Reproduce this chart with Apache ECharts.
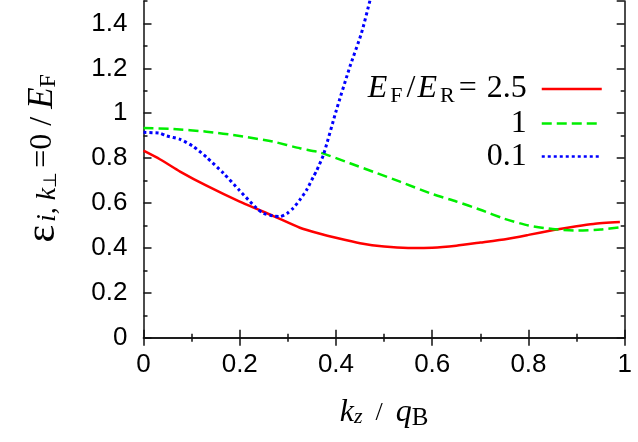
<!DOCTYPE html>
<html>
<head>
<meta charset="utf-8">
<script src="https://cdn.jsdelivr.net/npm/echarts@6/dist/echarts.min.js"></script>
<style>
  html, body { margin: 0; padding: 0; background: #fff; }
  #chart { width: 638px; height: 442px; }
</style>
</head>
<body>
<div id="chart"></div>
<script>
// E_F/E_R = 2.5
const redK = [0, 0.034, 0.076, 0.131, 0.20, 0.27, 0.325, 0.367, 0.40, 0.45, 0.50, 0.55, 0.60, 0.65, 0.70, 0.755, 0.80, 0.852, 0.90, 0.935, 0.99];
const redE = [0.833, 0.795, 0.740, 0.677, 0.606, 0.542, 0.490, 0.463, 0.445, 0.421, 0.406, 0.400, 0.401, 0.410, 0.424, 0.440, 0.458, 0.480, 0.497, 0.507, 0.515];
// E_F/E_R = 1
const greenK = [0, 0.062, 0.131, 0.20, 0.27, 0.325, 0.367, 0.429, 0.48, 0.533, 0.60, 0.65, 0.70, 0.75, 0.80, 0.85, 0.90, 0.95, 0.99];
const greenE = [0.934, 0.930, 0.918, 0.899, 0.873, 0.844, 0.825, 0.777, 0.737, 0.695, 0.640, 0.607, 0.570, 0.530, 0.500, 0.484, 0.477, 0.482, 0.492];
// E_F/E_R = 0.1
const blueK = [0, 0.034, 0.048, 0.076, 0.104, 0.131, 0.166, 0.20, 0.218, 0.235, 0.249, 0.27, 0.284, 0.298, 0.311, 0.325, 0.339, 0.353, 0.36, 0.374, 0.401, 0.429, 0.453, 0.471, 0.49];
const blueE = [0.915, 0.911, 0.899, 0.884, 0.851, 0.804, 0.733, 0.655, 0.614, 0.577, 0.554, 0.542, 0.540, 0.553, 0.577, 0.614, 0.658, 0.717, 0.745, 0.815, 1.015, 1.208, 1.357, 1.505, 1.66];

const seriesNames = ['2.5', '1', '0.1'];

const pairs = (xs, ys) => xs.map((x, i) => [x, ys[i]]);

const chart = echarts.init(document.getElementById('chart'));

const axisLine = { show: true, lineStyle: { color: '#111', width: 1.5 } };
const tickStyle = { color: '#111', width: 1.5 };
const labelFont = { fontFamily: 'Liberation Sans', fontSize: 26, color: '#000' };
const serif = 'Liberation Serif';

// y axes: major (0.2) + minor (0.1) on both sides
const yMajor = (pos, withLabel) => ({
  type: 'value', position: pos, min: 0, max: 1.5, interval: 0.2,
  axisLine: axisLine,
  axisTick: { inside: true, length: 8, lineStyle: tickStyle },
  axisLabel: withLabel ? { ...labelFont, margin: 16, showMaxLabel: false } : { show: false },
  splitLine: { show: false }
});
const yMinor = (pos) => ({
  type: 'value', position: pos, min: 0, max: 1.5, interval: 0.1,
  axisLine: { show: false },
  axisTick: { inside: true, length: 4, lineStyle: tickStyle },
  axisLabel: { show: false },
  splitLine: { show: false }
});

const xAxisBase = (pos, withLabel) => ({
  type: 'value', position: pos, min: 0, max: 1, interval: 0.2,
  axisLine: axisLine,
  axisTick: { inside: true, length: 8, lineStyle: tickStyle },
  minorTick: { show: true, splitNumber: 2, length: 4, lineStyle: tickStyle },
  axisLabel: withLabel ? { ...labelFont, margin: 14 } : { show: false },
  splitLine: { show: false },
  minorSplitLine: { show: false }
});

const yName = {
  ...yMajor('left', true),
  name: '{e|ε}{s|i, }{s|k}{ss|⊥}{m|=0}{m| / }{it|E}{s2|F}',
  nameLocation: 'middle',
  nameGap: 80,
  nameTextStyle: {
    fontFamily: serif, color: '#000', fontSize: 32, padding: [0, 0, 0, 22],
    rich: {
      e: { fontSize: 42, lineHeight: 42, padding: [0, 3, 0, 0] },
      s: { fontSize: 28, fontStyle: 'italic', lineHeight: 26, padding: [10, 0, 0, 0] },
      ss: { fontSize: 18, lineHeight: 16, padding: [18, 4, 0, 0] },
      m: { fontSize: 32, lineHeight: 42 },
      it: { fontSize: 35, fontStyle: 'italic', lineHeight: 42 },
      s2: { fontSize: 24, lineHeight: 22, padding: [12, 0, 0, 0] }
    }
  }
};

const xName = {
  ...xAxisBase('bottom', true),
  name: '{it|k}{s|z}{m|  /  }{it|q}{s2|B}',
  nameLocation: 'middle',
  nameGap: 58,
  nameTextStyle: {
    fontFamily: serif, color: '#000', fontSize: 32,
    rich: {
      it: { fontSize: 32, fontStyle: 'italic', lineHeight: 34 },
      s: { fontSize: 22, fontStyle: 'italic', lineHeight: 20, padding: [10, 0, 0, 0] },
      m: { fontSize: 26, lineHeight: 34 },
      s2: { fontSize: 25, lineHeight: 22, padding: [12, 0, 0, 0] }
    }
  }
};

chart.setOption({
  animation: false,
  backgroundColor: '#fff',
  grid: { left: 143.5, right: 13.3, top: 1, bottom: 104.3, containLabel: false },
  legend: {
    orient: 'vertical',
    right: 35,
    top: 71,
    padding: 0,
    itemGap: 0,
    align: 'right',
    itemWidth: 60,
    itemHeight: 4,
    selectedMode: false,
    data: seriesNames,
    itemStyle: { opacity: 0 },
    lineStyle: { width: 2.5 },
    formatter: name => name === '2.5'
      ? '{it|E}{sub|F}{sl|/}{it|E}{sub|R}{eq|=}{n|2.5}'
      : name,
    textStyle: {
      fontFamily: serif, fontSize: 32, color: '#000', lineHeight: 33,
      padding: [0, 10, 0, 0],
      rich: {
        it: { fontSize: 32, fontStyle: 'italic', lineHeight: 33, padding: [0, 3, 0, 0] },
        sub: { fontSize: 22, lineHeight: 18, padding: [14, 2, 0, 0] },
        sl: { fontSize: 32, lineHeight: 33, padding: [0, 2, 0, 2] },
        eq: { fontSize: 32, lineHeight: 33, padding: [0, 10, 0, 2] },
        n: { fontSize: 32, lineHeight: 33 }
      }
    }
  },
  xAxis: [xName, xAxisBase('top', false)],
  yAxis: [yName, yMinor('left'), yMajor('right', false), yMinor('right')],
  series: [
    {
      name: '2.5', type: 'line', data: pairs(redK, redE),
      showSymbol: false, symbol: 'none', smooth: 0.2,
      lineStyle: { color: '#ff0000', width: 2.5 }
    },
    {
      name: '1', type: 'line', data: pairs(greenK, greenE),
      showSymbol: false, symbol: 'none', smooth: 0.2,
      lineStyle: { color: '#00ee00', width: 2.5, type: [10, 5] }
    },
    {
      name: '0.1', type: 'line', data: pairs(blueK, blueE),
      showSymbol: false, symbol: 'none', smooth: 0.2,
      lineStyle: { color: '#0000ff', width: 3, type: [3, 3] }
    }
  ]
});
</script>
</body>
</html>
